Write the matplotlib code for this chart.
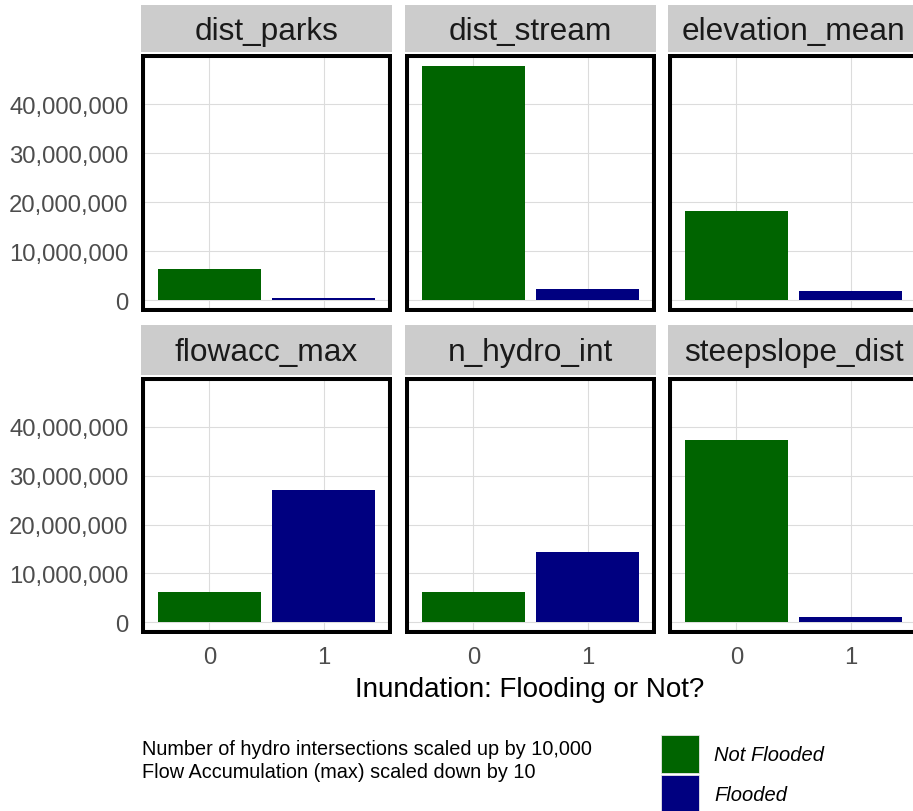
import matplotlib
matplotlib.use("Agg")
import matplotlib.pyplot as plt
from matplotlib.patches import Rectangle
from matplotlib.ticker import FuncFormatter

plt.rcParams["font.family"] = ["Liberation Sans", "DejaVu Sans"]

variables = ["dist_parks", "dist_stream", "elevation_mean",
             "flowacc_max", "n_hydro_int", "steepslope_dist"]
inundation = ["0", "1"]
not_flooded = [6.47e6, 47.8e6, 18.2e6, 6.2e6, 6.2e6, 37.3e6]
flooded = [0.4e6, 2.3e6, 1.9e6, 27.0e6, 14.4e6, 1.16e6]
y_breaks = [0, 10e6, 20e6, 30e6, 40e6]
fill_labels = ["Not Flooded", "Flooded"]
fill_colors = ["#006400", "#000080"]
caption_lines = ["Number of hydro intersections scaled up by 10,000",
                 "Flow Accumulation (max) scaled down by 10"]

W, H = 913, 812
fig = plt.figure(figsize=(W / 100, H / 100), dpi=100)


def rect(x0, y0, x1, y1):
    # pixel box (top-left origin) -> figure fraction
    return [x0 / W, 1 - y1 / H, (x1 - x0) / W, (y1 - y0) / H]


col_x = [(141, 392), (405, 656), (668, 919)]
row_y = [((6, 53), (55, 313)), ((326, 376), (378, 635))]

ymax = max(max(not_flooded), max(flooded))
ylim = (-0.05 * ymax, 1.05 * ymax)

for i, name in enumerate(variables):
    r, c = divmod(i, 3)
    (sy0, sy1), (py0, py1) = row_y[r]
    x0, x1 = col_x[c]

    ax = fig.add_axes(rect(x0, py0, x1, py1))
    vals = [not_flooded[i], flooded[i]]
    ax.bar([0, 1], vals, width=0.9, color=fill_colors, zorder=2)
    ax.set_xlim(-0.6, 1.6)
    ax.set_ylim(*ylim)
    ax.set_yticks(y_breaks)
    ax.yaxis.set_major_formatter(FuncFormatter(lambda v, p: f"{v:,.0f}"))
    ax.set_xticks([0, 1])
    ax.set_xticklabels(inundation)
    ax.grid(True, color="#DCDCDC", linewidth=0.8, zorder=0)
    ax.set_axisbelow(True)
    for s in ax.spines.values():
        s.set_visible(False)
    ax.tick_params(length=0, labelsize=17.2, labelcolor="#4D4D4D", pad=9)
    if c != 0:
        ax.tick_params(labelleft=False)
    if r == 0:
        ax.tick_params(labelbottom=False)
    # thick panel border, outer half clipped by the panel
    ax.add_patch(Rectangle((0, 0), 1, 1, transform=ax.transAxes, fill=False,
                           edgecolor="black", linewidth=5.8, zorder=5))

    sax = fig.add_axes(rect(x0, sy0, x1, sy1))
    sax.set_facecolor("#CCCCCC")
    sax.set_xticks([])
    sax.set_yticks([])
    for s in sax.spines.values():
        s.set_visible(False)
    sax.text(0.5, 0.45, name, ha="center", va="center", fontsize=22.8,
             color="#1A1A1A", transform=sax.transAxes)

fig.text(530 / W, 1 - 697 / H, "Inundation: Flooding or Not?", ha="center",
         va="baseline", fontsize=20, color="black")

for k, line in enumerate(caption_lines):
    fig.text(142 / W, 1 - (755 + 23 * k) / H, line, ha="left",
             va="baseline", fontsize=14.3, color="black")

# legend keys drawn as filled squares with labels beside them
for k, (lab, fc) in enumerate(zip(fill_labels, fill_colors)):
    top = 736 + 40 * k
    fig.add_artist(Rectangle((661 / W, 1 - (top + 38) / H), 38 / W, 38 / H,
                             transform=fig.transFigure, facecolor=fc,
                             edgecolor="#E6E6E6", linewidth=0.6))
    fig.text(714 / W, 1 - (top + 20) / H, lab, ha="left", va="center",
             fontsize=14.5, style="italic", color="black")

fig.savefig("out.png", dpi=100)
